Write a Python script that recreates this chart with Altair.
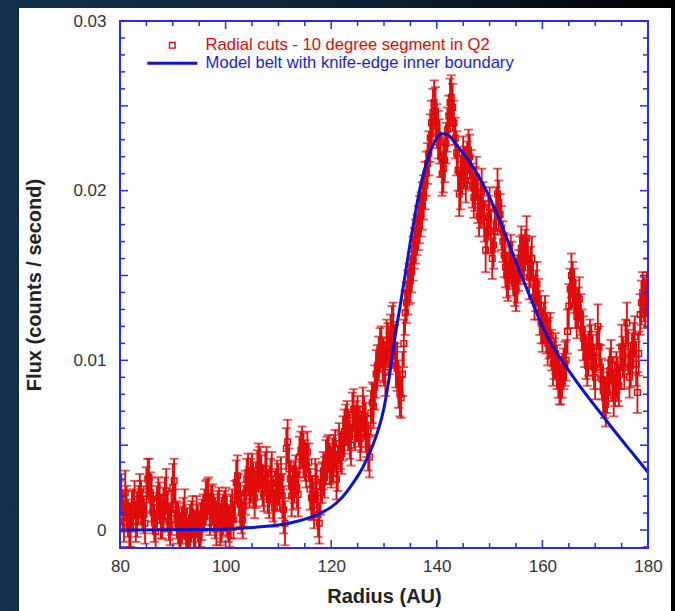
import altair as alt
import pandas as pd

# ---------------- data ----------------
radius = [80 + 0.25 * i for i in range(401)]
flux = [
    0.0016, 0.0021, 0.0010, 0.0005, 0.0022, 0.0014, 0.0007, 0.0002, 0.0003, 0.0011,
    0.0012, 0.0018, 0.0005, 0.0009, 0.0015, 0.0021, 0.0016, 0.0012, 0.0009, 0.0004,
    0.0024, 0.0030, 0.0031, 0.0022, 0.0018, 0.0010, 0.0004, -0.0001, 0.0013, 0.0019,
    0.0016, 0.0008, 0.0006, 0.0013, 0.0019, 0.0023, 0.0011, 0.0005, 0.0003, 0.0010,
    0.0025, 0.0029, 0.0012, 0.0006, 0.0004, 0.0000, -0.0002, 0.0003, 0.0007, 0.0011,
    0.0001, -0.0004, -0.0003, 0.0002, 0.0005, 0.0009, 0.0000, -0.0003, 0.0008, 0.0004,
    -0.0001, 0.0003, 0.0006, 0.0010, 0.0012, 0.0016, 0.0018, 0.0020, 0.0009, 0.0013,
    0.0015, 0.0010, 0.0007, 0.0004, 0.0011, 0.0014, 0.0003, 0.0006, 0.0009, 0.0012,
    0.0012, 0.0008, 0.0004, 0.0002, 0.0008, 0.0012, 0.0006, 0.0017, 0.0028, 0.0032,
    0.0021, 0.0015, 0.0010, 0.0006, 0.0014, 0.0022, 0.0030, 0.0034, 0.0025, 0.0029,
    0.0033, 0.0027, 0.0019, 0.0024, 0.0035, 0.0038, 0.0037, 0.0031, 0.0026, 0.0022,
    0.0034, 0.0036, 0.0022, 0.0018, 0.0030, 0.0033, 0.0017, 0.0013, 0.0024, 0.0028,
    0.0027, 0.0022, 0.0031, 0.0020, 0.0012, 0.0004, 0.0048, 0.0052, 0.0036, 0.0030,
    0.0020, 0.0025, 0.0028, 0.0033, 0.0025, 0.0021, 0.0043, 0.0047, 0.0049, 0.0044,
    0.0041, 0.0038, 0.0046, 0.0040, 0.0024, 0.0019, 0.0018, 0.0012, 0.0030, 0.0026,
    0.0009, 0.0004, 0.0022, 0.0028, 0.0035, 0.0031, 0.0040, 0.0043, 0.0045, 0.0039,
    0.0037, 0.0041, 0.0044, 0.0048, 0.0030, 0.0036, 0.0051, 0.0047, 0.0045, 0.0054,
    0.0058, 0.0062, 0.0063, 0.0059, 0.0055, 0.0050, 0.0068, 0.0071, 0.0060, 0.0064,
    0.0066, 0.0061, 0.0054, 0.0058, 0.0071, 0.0067, 0.0062, 0.0055, 0.0048, 0.0043,
    0.0069, 0.0075, 0.0073, 0.0084, 0.0092, 0.0097, 0.0101, 0.0106, 0.0108, 0.0100,
    0.0098, 0.0093, 0.0112, 0.0109, 0.0104, 0.0114, 0.0118, 0.0121, 0.0109, 0.0097,
    0.0095, 0.0086, 0.0080, 0.0078, 0.0092, 0.0110, 0.0128, 0.0134, 0.0140, 0.0145,
    0.0147, 0.0152, 0.0160, 0.0166, 0.0170, 0.0174, 0.0178, 0.0183, 0.0186, 0.0191,
    0.0196, 0.0203, 0.0210, 0.0216, 0.0222, 0.0231, 0.0240, 0.0246, 0.0252, 0.0247,
    0.0238, 0.0233, 0.0229, 0.0220, 0.0210, 0.0213, 0.0218, 0.0228, 0.0236, 0.0244,
    0.0252, 0.0255, 0.0249, 0.0240, 0.0231, 0.0222, 0.0212, 0.0198, 0.0203, 0.0211,
    0.0219, 0.0214, 0.0206, 0.0215, 0.0224, 0.0220, 0.0212, 0.0203, 0.0196, 0.0201,
    0.0208, 0.0194, 0.0185, 0.0191, 0.0199, 0.0192, 0.0182, 0.0165, 0.0175, 0.0184,
    0.0190, 0.0176, 0.0160, 0.0168, 0.0176, 0.0189, 0.0198, 0.0193, 0.0186, 0.0178,
    0.0170, 0.0162, 0.0155, 0.0150, 0.0147, 0.0155, 0.0162, 0.0157, 0.0150, 0.0145,
    0.0141, 0.0147, 0.0153, 0.0160, 0.0166, 0.0162, 0.0158, 0.0165, 0.0172, 0.0160,
    0.0149, 0.0155, 0.0160, 0.0146, 0.0137, 0.0141, 0.0145, 0.0136, 0.0128, 0.0122,
    0.0118, 0.0122, 0.0125, 0.0116, 0.0110, 0.0113, 0.0115, 0.0106, 0.0098, 0.0101,
    0.0104, 0.0096, 0.0090, 0.0087, 0.0086, 0.0091, 0.0095, 0.0098, 0.0100, 0.0117,
    0.0132, 0.0142, 0.0150, 0.0146, 0.0141, 0.0133, 0.0126, 0.0131, 0.0136, 0.0127,
    0.0118, 0.0113, 0.0108, 0.0102, 0.0097, 0.0104, 0.0112, 0.0108, 0.0103, 0.0096,
    0.0090, 0.0105, 0.0120, 0.0108, 0.0096, 0.0089, 0.0082, 0.0078, 0.0074, 0.0081,
    0.0088, 0.0094, 0.0100, 0.0089, 0.0079, 0.0086, 0.0093, 0.0089, 0.0085, 0.0096,
    0.0108, 0.0102, 0.0096, 0.0110, 0.0122, 0.0105, 0.0090, 0.0097, 0.0104, 0.0109,
    0.0114, 0.0098, 0.0081, 0.0104, 0.0127, 0.0134, 0.0140, 0.0136, 0.0132, 0.0139,
    0.0146,
]
flux_err = [
    0.0013, 0.0012, 0.0011, 0.0012, 0.0013, 0.0012, 0.0011, 0.0012, 0.0013, 0.0012,
    0.0012, 0.0011, 0.0012, 0.0013, 0.0011, 0.0012, 0.0013, 0.0012, 0.0011, 0.0012,
    0.0013, 0.0012, 0.0011, 0.0012, 0.0013, 0.0012, 0.0011, 0.0012, 0.0013, 0.0012,
    0.0012, 0.0013, 0.0011, 0.0012, 0.0012, 0.0013, 0.0012, 0.0011, 0.0012, 0.0013,
    0.0014, 0.0013, 0.0012, 0.0011, 0.0012, 0.0013, 0.0012, 0.0011, 0.0012, 0.0013,
    0.0012, 0.0011, 0.0012, 0.0013, 0.0012, 0.0011, 0.0012, 0.0013, 0.0012, 0.0011,
    0.0012, 0.0013, 0.0012, 0.0011, 0.0012, 0.0013, 0.0012, 0.0011, 0.0012, 0.0013,
    0.0012, 0.0011, 0.0012, 0.0013, 0.0012, 0.0011, 0.0012, 0.0013, 0.0012, 0.0011,
    0.0013, 0.0012, 0.0011, 0.0012, 0.0013, 0.0012, 0.0011, 0.0012, 0.0013, 0.0012,
    0.0012, 0.0013, 0.0012, 0.0011, 0.0012, 0.0013, 0.0012, 0.0011, 0.0012, 0.0013,
    0.0012, 0.0013, 0.0012, 0.0011, 0.0012, 0.0013, 0.0012, 0.0013, 0.0012, 0.0011,
    0.0012, 0.0013, 0.0012, 0.0011, 0.0012, 0.0013, 0.0012, 0.0011, 0.0012, 0.0013,
    0.0012, 0.0011, 0.0012, 0.0013, 0.0014, 0.0013, 0.0012, 0.0013, 0.0012, 0.0011,
    0.0012, 0.0013, 0.0012, 0.0011, 0.0012, 0.0013, 0.0012, 0.0011, 0.0012, 0.0013,
    0.0012, 0.0013, 0.0012, 0.0011, 0.0012, 0.0013, 0.0012, 0.0011, 0.0012, 0.0013,
    0.0013, 0.0012, 0.0013, 0.0012, 0.0011, 0.0012, 0.0013, 0.0012, 0.0011, 0.0012,
    0.0012, 0.0013, 0.0012, 0.0011, 0.0012, 0.0013, 0.0012, 0.0011, 0.0012, 0.0013,
    0.0013, 0.0012, 0.0013, 0.0012, 0.0013, 0.0012, 0.0013, 0.0012, 0.0013, 0.0012,
    0.0013, 0.0012, 0.0013, 0.0012, 0.0013, 0.0012, 0.0013, 0.0012, 0.0013, 0.0012,
    0.0013, 0.0012, 0.0013, 0.0013, 0.0014, 0.0012, 0.0013, 0.0013, 0.0012, 0.0013,
    0.0013, 0.0014, 0.0012, 0.0013, 0.0012, 0.0013, 0.0014, 0.0013, 0.0012, 0.0013,
    0.0013, 0.0014, 0.0013, 0.0012, 0.0013, 0.0014, 0.0013, 0.0012, 0.0013, 0.0012,
    0.0013, 0.0012, 0.0013, 0.0012, 0.0013, 0.0012, 0.0013, 0.0014, 0.0013, 0.0014,
    0.0013, 0.0014, 0.0013, 0.0012, 0.0013, 0.0014, 0.0013, 0.0014, 0.0013, 0.0014,
    0.0013, 0.0014, 0.0013, 0.0012, 0.0013, 0.0014, 0.0013, 0.0012, 0.0013, 0.0012,
    0.0014, 0.0013, 0.0014, 0.0013, 0.0012, 0.0013, 0.0012, 0.0013, 0.0014, 0.0013,
    0.0013, 0.0012, 0.0013, 0.0014, 0.0012, 0.0013, 0.0012, 0.0013, 0.0012, 0.0013,
    0.0012, 0.0013, 0.0012, 0.0013, 0.0014, 0.0013, 0.0012, 0.0013, 0.0012, 0.0013,
    0.0012, 0.0013, 0.0012, 0.0014, 0.0012, 0.0013, 0.0015, 0.0013, 0.0012, 0.0013,
    0.0012, 0.0013, 0.0012, 0.0013, 0.0012, 0.0013, 0.0012, 0.0013, 0.0012, 0.0013,
    0.0012, 0.0013, 0.0012, 0.0013, 0.0013, 0.0012, 0.0013, 0.0012, 0.0013, 0.0012,
    0.0013, 0.0012, 0.0013, 0.0012, 0.0013, 0.0012, 0.0013, 0.0012, 0.0013, 0.0012,
    0.0013, 0.0012, 0.0013, 0.0012, 0.0013, 0.0012, 0.0013, 0.0012, 0.0013, 0.0012,
    0.0012, 0.0013, 0.0012, 0.0013, 0.0012, 0.0013, 0.0012, 0.0013, 0.0012, 0.0013,
    0.0013, 0.0012, 0.0013, 0.0012, 0.0013, 0.0014, 0.0013, 0.0012, 0.0013, 0.0012,
    0.0012, 0.0013, 0.0012, 0.0013, 0.0012, 0.0013, 0.0012, 0.0013, 0.0012, 0.0013,
    0.0013, 0.0012, 0.0013, 0.0012, 0.0013, 0.0012, 0.0013, 0.0012, 0.0013, 0.0012,
    0.0012, 0.0013, 0.0012, 0.0013, 0.0012, 0.0013, 0.0012, 0.0013, 0.0012, 0.0013,
    0.0013, 0.0012, 0.0013, 0.0014, 0.0012, 0.0013, 0.0012, 0.0013, 0.0012, 0.0013,
    0.0012, 0.0013, 0.0012, 0.0013, 0.0012, 0.0013, 0.0012, 0.0013, 0.0013, 0.0013,
    0.0014,
]

model_r = [80, 90, 100, 105, 110, 114, 116, 118, 120, 122, 124, 126, 128, 129, 130, 131,
           132, 133, 134, 135, 136, 137, 138, 139, 140, 141, 142, 143, 144, 146, 148,
           150, 152, 154, 156, 158, 160, 162, 165, 168, 171, 174, 177, 180]
model_f = [0.0000, 0.00002, 0.00005, 0.00015, 0.0003, 0.00055, 0.00075, 0.001, 0.00135,
           0.0019, 0.0027, 0.0037, 0.0051, 0.0060, 0.0072, 0.0090, 0.0112, 0.0131, 0.0150,
           0.0170, 0.0188, 0.0204, 0.0216, 0.0225, 0.0231, 0.02335, 0.0233, 0.0230,
           0.0226, 0.0218, 0.0208, 0.0196, 0.0182, 0.0166, 0.0150, 0.0135, 0.0120,
           0.0108, 0.0094, 0.0081, 0.0069, 0.0057, 0.00455, 0.0034]

series = ["Radial cuts - 10 degree segment in Q2",
          "Model belt with knife-edge inner boundary"]

x_major_ticks = [80, 100, 120, 140, 160, 180]
x_minor_ticks = [85, 90, 95, 105, 110, 115, 125, 130, 135, 145, 150, 155, 165, 170, 175]
y_major_ticks = [0.0, 0.005, 0.01, 0.015, 0.02, 0.025]
y_minor_ticks = [0.001, 0.002, 0.003, 0.004, 0.006, 0.007, 0.008, 0.009,
                 0.011, 0.012, 0.013, 0.014, 0.016, 0.017, 0.018, 0.019,
                 0.021, 0.022, 0.023, 0.024, 0.026, 0.027, 0.028, 0.029, -0.001]
y_labels = [0, 0.01, 0.02, 0.03]

# ---------------- styling ----------------
W, H = 528, 527
RED = "#e00a0a"
BLUE_LINE = "#0a14cc"
BLUE_FRAME = "#2a2ae8"
BLUE_TEXT = "#1c1ce0"
FONT = "Liberation Sans"
XDOM = [80, 180]
YDOM = [-0.00106, 0.03]

df = pd.DataFrame({"r": radius, "f": flux, "e": flux_err})
df["lo"] = df["f"] - df["e"]
df["hi"] = df["f"] + df["e"]
df["series"] = series[0]
mdf = pd.DataFrame({"r": model_r, "f": model_f})

xs = alt.Scale(domain=XDOM, nice=False, zero=False)
ys = alt.Scale(domain=YDOM, nice=False, zero=False)

ring = "M-0.7,-0.7H0.7V0.7H-0.7Z M-0.42,-0.42V0.42H0.42V-0.42Z"
bar = "M-5,-0.3H5V0.3H-5Z"

one = pd.DataFrame({"a": [0]})

canvas = alt.Chart(one).mark_rect(
    color=alt.Gradient(
        gradient="linear",
        stops=[alt.GradientStop(color="#12304c", offset=0),
               alt.GradientStop(color="#0c2134", offset=0.55),
               alt.GradientStop(color="#000000", offset=1)],
        x1=0, x2=1, y1=0, y2=0,
    )
).encode(x=alt.value(-120), x2=alt.value(555), y=alt.value(-21), y2=alt.value(590))

panel = alt.Chart(one).mark_rect(color="white").encode(
    x=alt.value(-101), x2=alt.value(551), y=alt.value(-13), y2=alt.value(590)
)

legend = alt.Legend(
    title=None, orient="none", legendX=44, legendY=16, padding=0,
    labelFont=FONT, labelFontSize=16.6, labelOffset=25, rowPadding=1,
    symbolStrokeWidth=0, labelLimit=600,
    labelColor=alt.ExprRef(
        expr="indexof(datum.label, 'Radial') >= 0 ? '%s' : '%s'" % (RED, BLUE_TEXT)),
)

err_rule = alt.Chart(df).mark_rule(color=RED, strokeWidth=1.8, clip=True).encode(
    x=alt.X("r:Q", scale=xs), y=alt.Y("lo:Q", scale=ys), y2="hi:Q"
)
cap_lo = alt.Chart(df).mark_tick(color=RED, orient="horizontal", size=9,
                                 thickness=1.8, clip=True).encode(
    x=alt.X("r:Q", scale=xs), y=alt.Y("lo:Q", scale=ys)
)
cap_hi = alt.Chart(df).mark_tick(color=RED, orient="horizontal", size=9,
                                 thickness=1.8, clip=True).encode(
    x=alt.X("r:Q", scale=xs), y=alt.Y("hi:Q", scale=ys)
)
pts = alt.Chart(df).mark_point(filled=True, opacity=1, size=100, clip=True).encode(
    x=alt.X("r:Q", scale=xs,
            axis=alt.Axis(title="Radius (AU)", values=x_major_ticks, ticks=False,
                          domain=False, grid=False, labelFont=FONT, labelFontSize=17,
                          labelColor="#333333", labelPadding=10, labelFlush=False,
                          titleFont=FONT, titleFontSize=20, titleFontWeight="bold",
                          titleColor="#222222", titlePadding=12, zindex=1)),
    y=alt.Y("f:Q", scale=ys,
            axis=alt.Axis(title="Flux (counts / second)", values=y_labels, format="~g",
                          ticks=False, domain=False, grid=False, labelFont=FONT,
                          labelFontSize=17, labelColor="#333333", labelPadding=14,
                          labelFlush=False, titleFont=FONT, titleFontSize=20,
                          titleFontWeight="bold", titleColor="#222222", titlePadding=28,
                          zindex=1)),
    color=alt.Color("series:N", scale=alt.Scale(domain=series, range=[RED, BLUE_LINE]),
                    legend=legend),
    shape=alt.Shape("series:N", scale=alt.Scale(domain=series, range=[ring, bar]),
                    legend=legend),
)
model = alt.Chart(mdf).mark_line(color=BLUE_LINE, strokeWidth=3, interpolate="monotone",
                                 clip=True).encode(
    x=alt.X("r:Q", scale=xs), y=alt.Y("f:Q", scale=ys)
)


def xticks(vals, length):
    d = pd.DataFrame({"t": vals})
    bot = alt.Chart(d).mark_rule(color=BLUE_FRAME, strokeWidth=1.5).encode(
        x=alt.X("t:Q", scale=xs), y=alt.value(H), y2=alt.value(H - length))
    top = alt.Chart(d).mark_rule(color=BLUE_FRAME, strokeWidth=1.5).encode(
        x=alt.X("t:Q", scale=xs), y=alt.value(0), y2=alt.value(length))
    return [bot, top]


def yticks(vals, length):
    d = pd.DataFrame({"t": vals})
    lft = alt.Chart(d).mark_rule(color=BLUE_FRAME, strokeWidth=1.5, clip=True).encode(
        y=alt.Y("t:Q", scale=ys), x=alt.value(0), x2=alt.value(length))
    rgt = alt.Chart(d).mark_rule(color=BLUE_FRAME, strokeWidth=1.5, clip=True).encode(
        y=alt.Y("t:Q", scale=ys), x=alt.value(W), x2=alt.value(W - length))
    return [lft, rgt]


frame = alt.Chart(one).mark_rect(filled=False, stroke=BLUE_FRAME, strokeWidth=2).encode(
    x=alt.value(0), x2=alt.value(W), y=alt.value(0), y2=alt.value(H)
)

layers = [canvas, panel, err_rule, cap_lo, cap_hi, pts, model]
layers += xticks(x_major_ticks, 8) + xticks(x_minor_ticks, 5)
layers += yticks(y_major_ticks, 8) + yticks(y_minor_ticks, 5)
layers += [frame]

chart = alt.layer(*layers).properties(
    width=W, height=H,
    autosize=alt.AutoSizeParams(type="none"),
    padding={"left": 120, "top": 21, "right": 27, "bottom": 63},
    background="#0c2134",
).configure_view(stroke=None)

chart.save("out.html", embed_options={"renderer": "svg", "actions": False})
